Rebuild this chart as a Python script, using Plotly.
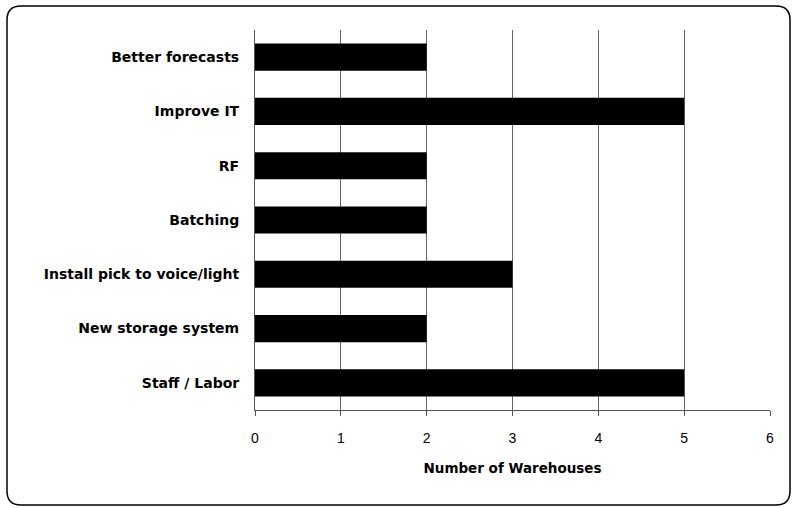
import plotly.graph_objects as go

categories = ["Better forecasts", "Improve IT", "RF", "Batching",
              "Install pick to voice/light", "New storage system", "Staff / Labor"]
warehouses = [2, 5, 2, 2, 3, 2, 5]
x_ticks = [0, 1, 2, 3, 4, 5, 6]

W, H = 795, 508
L, R, T, B = 255, 25, 30, 98

fig = go.Figure()

fig.add_trace(go.Bar(
    y=categories,
    x=warehouses,
    orientation="h",
    marker=dict(color="black", line=dict(width=0)),
    showlegend=False,
))

# cadre arrondi autour du graphique (coordonnées papier)
pw, ph = W - L - R, H - T - B
def px(x):
    return (x - L) / pw
def py(y):
    return (H - B - y) / ph
x0, x1, y0, y1, r = 7, 790, 6, 505, 14
path = (f"M {px(x0 + r)},{py(y0)} L {px(x1 - r)},{py(y0)} "
        f"Q {px(x1)},{py(y0)} {px(x1)},{py(y0 + r)} "
        f"L {px(x1)},{py(y1 - r)} Q {px(x1)},{py(y1)} {px(x1 - r)},{py(y1)} "
        f"L {px(x0 + r)},{py(y1)} Q {px(x0)},{py(y1)} {px(x0)},{py(y1 - r)} "
        f"L {px(x0)},{py(y0 + r)} Q {px(x0)},{py(y0)} {px(x0 + r)},{py(y0)} Z")
fig.add_shape(type="path", path=path, xref="paper", yref="paper",
              line=dict(color="black", width=1.5), layer="below")

fig.update_layout(
    width=W, height=H,
    margin=dict(l=L, r=R, t=T, b=B),
    paper_bgcolor="white",
    plot_bgcolor="white",
    bargap=0.5,
    font=dict(family="Arial, Liberation Sans, sans-serif", color="black", size=13),
    xaxis=dict(
        range=[0, 6],
        tickvals=x_ticks,
        showgrid=True,
        gridcolor="#666666",
        gridwidth=1,
        showline=True,
        linecolor="#555555",
        ticks="outside",
        ticklen=5,
        tickcolor="#555555",
        ticklabelstandoff=10,
        zeroline=False,
        tickfont=dict(size=14),
        title=dict(text="<b>Number of Warehouses</b>",
                   font=dict(family="DejaVu Sans, sans-serif", size=13.5), standoff=18),
    ),
    yaxis=dict(
        autorange="reversed",
        showline=True,
        linecolor="#555555",
        ticks="",
        ticklabelstandoff=12,
        tickfont=dict(family="DejaVu Sans, sans-serif", size=14),
        tickprefix="<b>",
        ticksuffix="</b>",
    ),
)

fig.write_html("out.html", config={"displayModeBar": False},
               post_script="document.body.style.margin='0';")
